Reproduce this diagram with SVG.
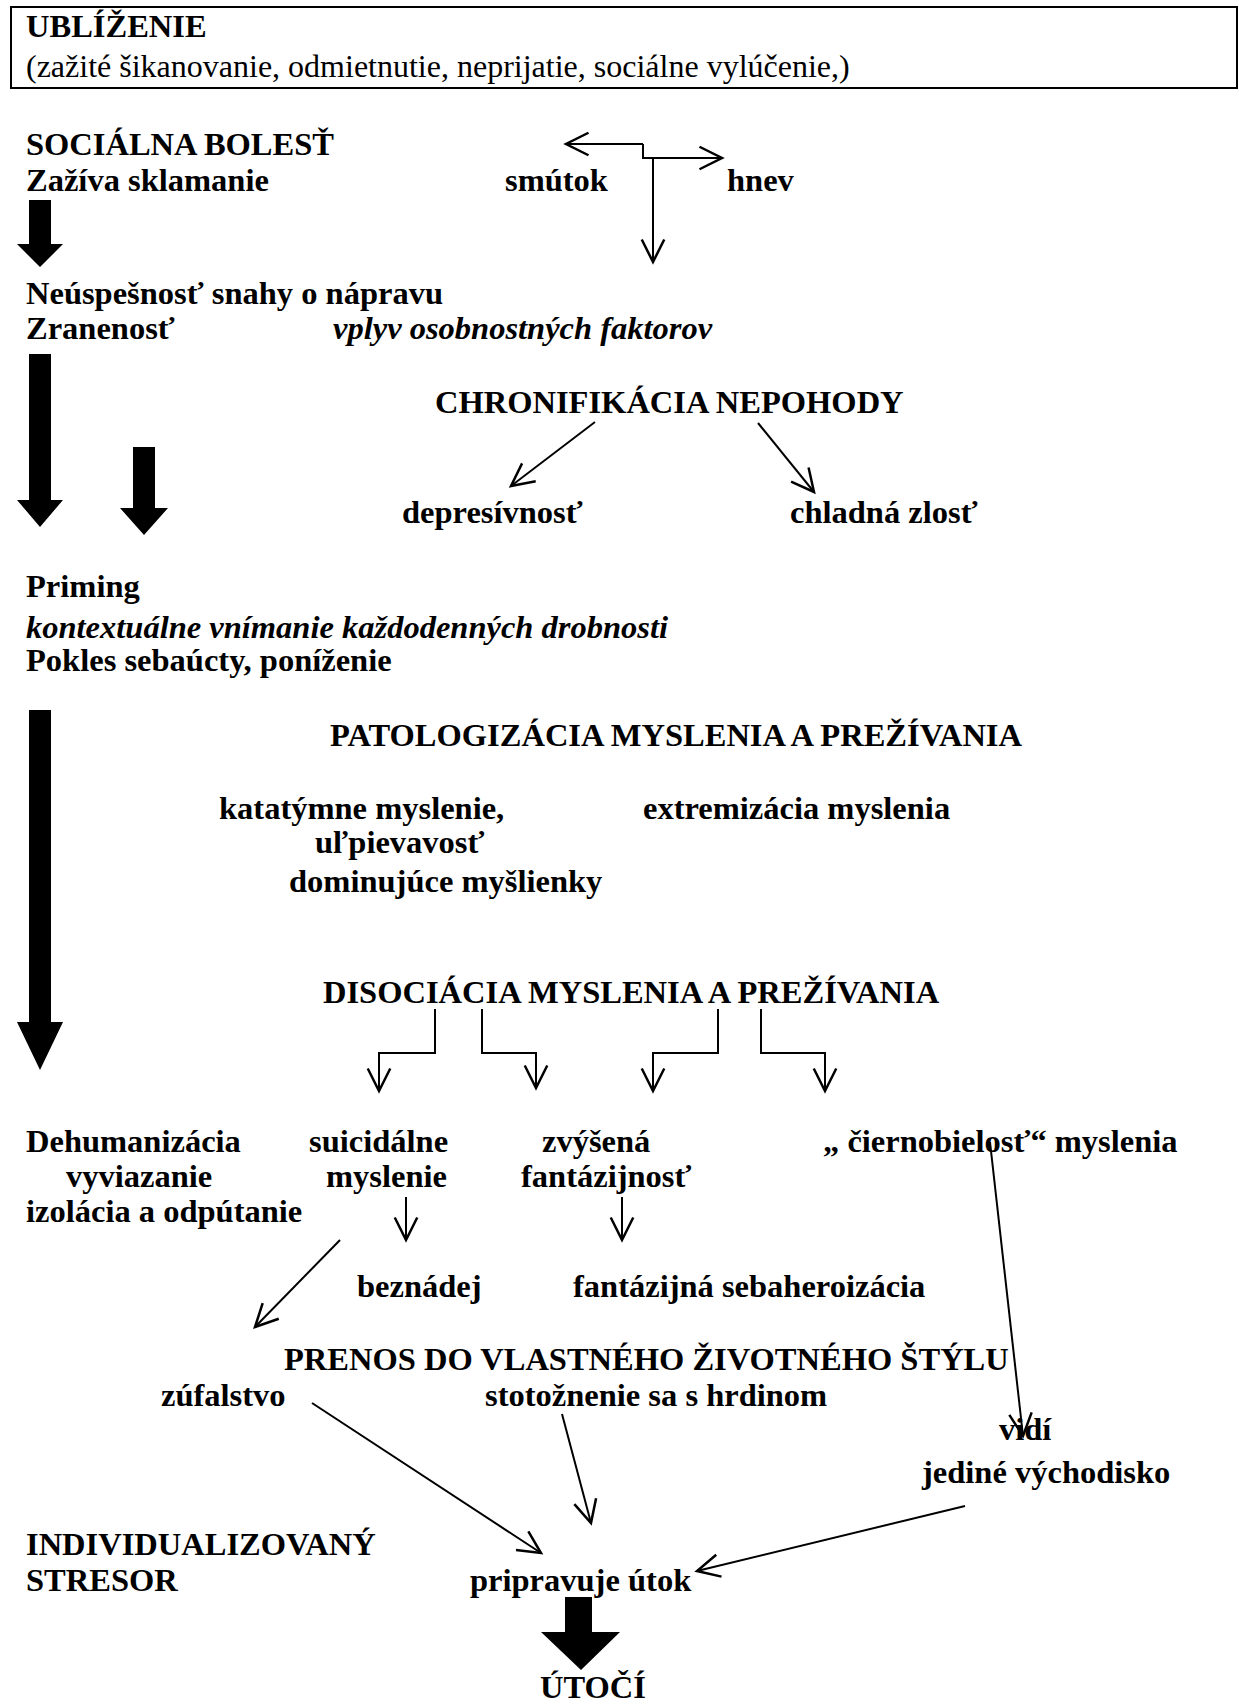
<svg xmlns="http://www.w3.org/2000/svg" width="1239" height="1706" viewBox="0 0 1239 1706">
<style>
text{font-family:"Liberation Serif","Times New Roman",serif;font-size:32.5px;font-weight:bold;fill:#000}
.r{font-weight:normal;font-size:32px}
.i{font-style:italic}
.ln{stroke:#000;stroke-width:2;fill:none}
.th{fill:#000;stroke:none}
</style>
<defs>
<marker id="ah" markerUnits="userSpaceOnUse" markerWidth="30" markerHeight="30" viewBox="-20 -12 24 24" refX="0" refY="0" orient="auto">
<path d="M-18,-9 L0,0 L-18,9" fill="none" stroke="#000" stroke-width="2"/>
</marker>
</defs>
<rect width="1239" height="1706" fill="#fff"/>
<g id="ublizenie">
<rect x="11" y="7" width="1226" height="81" fill="none" stroke="#000" stroke-width="2"/>
<text x="26" y="37">UBLÍŽENIE</text>
<text class="r" x="26" y="77">(zažité šikanovanie, odmietnutie, neprijatie, sociálne vylúčenie,)</text>
</g>
<g id="socialna-bolest">
<text x="26" y="155">SOCIÁLNA BOLESŤ</text>
<text x="26" y="191">Zažíva sklamanie</text>
</g>
<g id="smutok"><text x="505" y="191">smútok</text></g>
<g id="hnev"><text x="727" y="191">hnev</text></g>
<g id="neuspesnost">
<text x="26" y="304">Neúspešnosť snahy o nápravu</text>
<text x="26" y="339">Zranenosť</text>
</g>
<g id="vplyv"><text class="i" x="333" y="339">vplyv osobnostných faktorov</text></g>
<g id="chronifikacia"><text x="435" y="413">CHRONIFIKÁCIA NEPOHODY</text></g>
<g id="depresivnost"><text x="402" y="523">depresívnosť</text></g>
<g id="chladna-zlost"><text x="790" y="523">chladná zlosť</text></g>
<g id="priming">
<text x="26" y="597">Priming</text>
<text class="i" x="26" y="638">kontextuálne vnímanie každodenných drobnosti</text>
<text x="26" y="671">Pokles sebaúcty, poníženie</text>
</g>
<g id="patologizacia"><text x="330" y="746">PATOLOGIZÁCIA MYSLENIA A PREŽÍVANIA</text></g>
<g id="katatymne">
<text x="219" y="819">katatýmne myslenie,</text>
<text x="315" y="853">uľpievavosť</text>
<text x="289" y="892">dominujúce myšlienky</text>
</g>
<g id="extremizacia"><text x="643" y="819">extremizácia myslenia</text></g>
<g id="disociacia"><text x="323" y="1003">DISOCIÁCIA MYSLENIA A PREŽÍVANIA</text></g>
<g id="dehumanizacia">
<text x="26" y="1152">Dehumanizácia</text>
<text x="66" y="1187">vyviazanie</text>
<text x="26" y="1222">izolácia a odpútanie</text>
</g>
<g id="suicidalne">
<text x="309" y="1152">suicidálne</text>
<text x="326" y="1187">myslenie</text>
</g>
<g id="zvysena">
<text x="542" y="1152">zvýšená</text>
<text x="521" y="1187">fantázijnosť</text>
</g>
<g id="ciernobielost"><text x="823" y="1152">„ čiernobielosť“ myslenia</text></g>
<g id="beznadej"><text x="357" y="1297">beznádej</text></g>
<g id="sebaheroizacia"><text x="573" y="1297">fantázijná sebaheroizácia</text></g>
<g id="prenos"><text x="284" y="1370">PRENOS DO VLASTNÉHO ŽIVOTNÉHO ŠTÝLU</text></g>
<g id="zufalstvo"><text x="161" y="1406">zúfalstvo</text></g>
<g id="stotoznenie"><text x="485" y="1406">stotožnenie sa s hrdinom</text></g>
<g id="vidi">
<text x="999" y="1440">vidí</text>
<text x="922" y="1483">jediné východisko</text>
</g>
<g id="stresor">
<text x="26" y="1555">INDIVIDUALIZOVANÝ</text>
<text x="26" y="1591">STRESOR</text>
</g>
<g id="pripravuje"><text x="470" y="1591">pripravuje útok</text></g>
<g id="utoci"><text x="540" y="1698">ÚTOČÍ</text></g>
<g id="connectors">
<polyline class="ln" points="643,144 643,158 722,158" marker-end="url(#ah)"/>
<polyline class="ln" points="643,144 566,144" marker-end="url(#ah)"/>
<line class="ln" x1="653" y1="158" x2="653" y2="262" marker-end="url(#ah)"/>
<polygon class="th" points="29,200 51,200 51,244 63,244 40,267 17,244 29,244"/>
<polygon class="th" points="29,354 51,354 51,500 63,500 40,527 17,500 29,500"/>
<polygon class="th" points="133,447 155,447 155,508 168,508 144,535 120,508 133,508"/>
<line class="ln" x1="595" y1="422" x2="511" y2="486" marker-end="url(#ah)"/>
<line class="ln" x1="758" y1="423" x2="814" y2="492" marker-end="url(#ah)"/>
<polygon class="th" points="29,710 51,710 51,1022 63,1022 40,1070 17,1022 29,1022"/>
<polyline class="ln" points="435,1009 435,1053 379,1053 379,1091" marker-end="url(#ah)"/>
<polyline class="ln" points="482,1009 482,1053 536,1053 536,1088" marker-end="url(#ah)"/>
<polyline class="ln" points="718,1009 718,1053 653,1053 653,1091" marker-end="url(#ah)"/>
<polyline class="ln" points="761,1009 761,1053 825,1053 825,1091" marker-end="url(#ah)"/>
<line class="ln" x1="406" y1="1197" x2="406" y2="1240" marker-end="url(#ah)"/>
<line class="ln" x1="622" y1="1197" x2="622" y2="1240" marker-end="url(#ah)"/>
<line class="ln" x1="340" y1="1240" x2="255" y2="1327" marker-end="url(#ah)"/>
<line class="ln" x1="990" y1="1142" x2="1023" y2="1436" marker-end="url(#ah)"/>
<line class="ln" x1="312" y1="1403" x2="541" y2="1553" marker-end="url(#ah)"/>
<line class="ln" x1="562" y1="1414" x2="591" y2="1523" marker-end="url(#ah)"/>
<line class="ln" x1="965" y1="1506" x2="697" y2="1571" marker-end="url(#ah)"/>
<polygon class="th" points="565,1597 592,1597 592,1632 620,1632 581,1670 541,1632 565,1632"/>
</g>
</svg>
